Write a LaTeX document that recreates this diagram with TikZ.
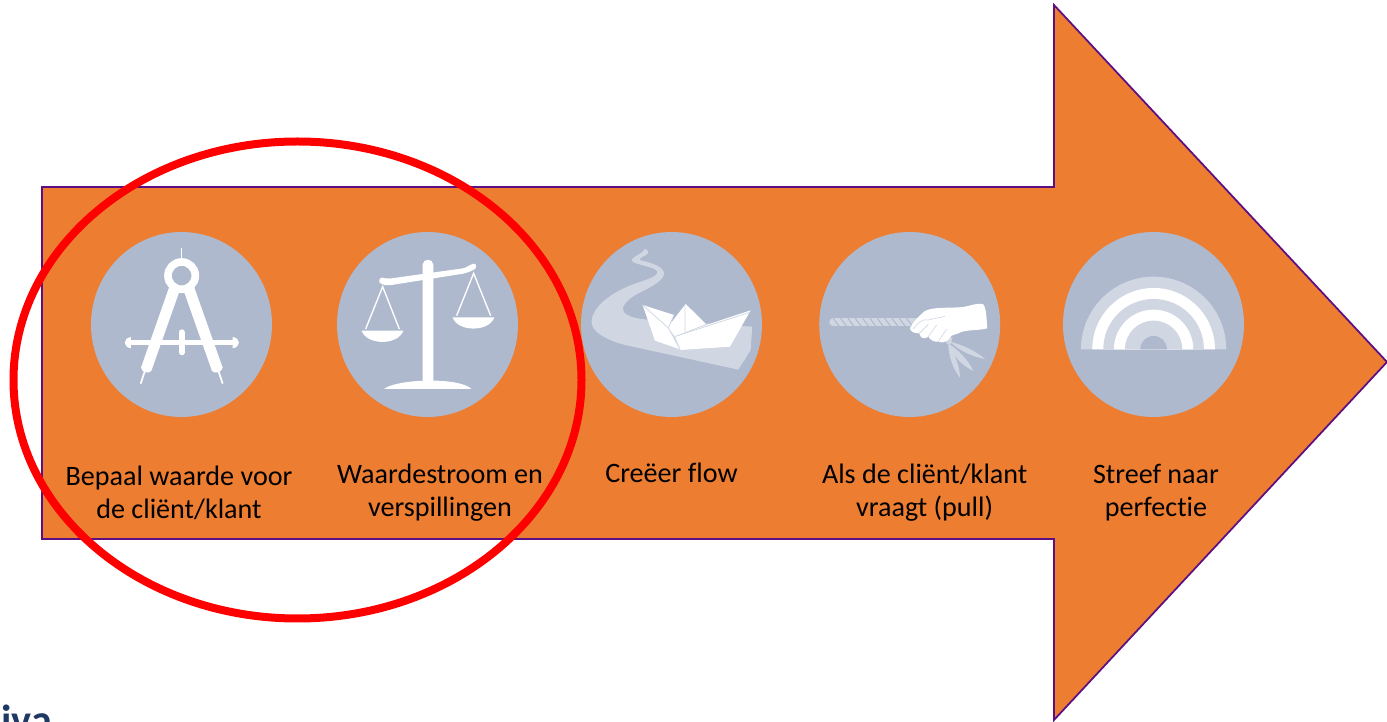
\documentclass[tikz,border=0pt]{standalone}
\usepackage{fontspec}
\setmainfont[RawFeature={-liga}]{Carlito}
\usetikzlibrary{shapes.geometric}
\definecolor{pijl}{HTML}{ED7D31}
\definecolor{rand}{HTML}{5C0F82}
\definecolor{schijf}{HTML}{AEB9CE}
\definecolor{bleek}{HTML}{D0D7E3}
\definecolor{kop}{HTML}{1F3864}
\tikzset{
  schijfje/.style={ellipse,fill=schijf,inner sep=0pt,minimum width=3.62cm,minimum height=3.7cm},
  stap/.style={align=center,inner sep=0pt,font=\fontsize{16}{18.7}\selectfont},
  zoomed/.style={x=0.02cm/3,y=-0.02cm/3},
}
\begin{document}
\begin{tikzpicture}[x=0.02cm,y=-0.02cm,node distance=3.36cm]
\useasboundingbox (0,0) rectangle (1387,722);
\clip (0,0) rectangle (1387,722);
\draw[fill=pijl,draw=rand,line width=0.035cm] (42,187) -- (1054,187) -- (1054,5) -- (1387,362) -- (1054,720) -- (1054,539) -- (42,539) -- cycle;
\node[schijfje] (c_1) at (181.5,324.5) {};
\node[schijfje] (c_2) at (427.5,324.5) {};
\node[schijfje] (c_3) at (671.5,324.5) {};
\node[schijfje] (c_4) at (909.7,324.5) {};
\node[schijfje] (c_5) at (1153.5,324.5) {};
\node[stap] (t_1) [below of=c_1,xshift=-0.05cm] {Bepaal waarde voor\\de cliënt/klant};
\node[stap] (t_2) [below of=c_2,xshift=0.25cm] {Waardestroom en\\verspillingen};
\node[stap] (t_3) [below of=c_3,yshift=0.40cm] {Creëer flow};
\node[stap] (t_4) [below of=c_4,xshift=0.3cm] {Als de cliënt/klant\\vraagt (pull)};
\node[stap] (t_5) [below of=c_5,xshift=0.05cm] {Streef naar\\perfectie};
% passer
\begin{scope}[zoomed,shift={(80*3,225*3)}]
\draw[white,line width=0.03cm] (305,70) -- (305,100);
\draw[white,line width=0.153cm] (305,152) circle (41);
\fill[white] (268,185) -- (298,200) -- (214,438) .. controls (204,448) and (185,442) .. (183,428) -- cycle;
\fill[white] (342,185) -- (312,200) -- (396,438) .. controls (406,448) and (425,442) .. (428,428) -- cycle;
\draw[white,line width=0.035cm] (194,440) -- (182,476) (416,440) -- (428,476);
\fill[white] (150,344) rectangle (460,361);
\fill[white] (153,336) .. controls (128,340) and (128,366) .. (153,370) -- cycle;
\fill[white] (458,336) .. controls (483,340) and (483,366) .. (458,370) -- cycle;
\draw[white,line width=0.12cm,line cap=round] (305,322) -- (305,382);
\end{scope}
% weegschaal
\begin{scope}[zoomed,shift={(80*3,225*3)}]
\fill[white] (1028,118) .. controls (1030,100) and (1058,100) .. (1060,118) -- (1060,470) -- (1028,470) -- cycle;
\fill[white] (912,492) .. controls (950,462) and (1135,455) .. (1175,492) -- cycle;
\fill[white] (905,158) .. controls (915,160) and (925,162) .. (935,160) -- (1150,130) .. controls (1160,128) and (1170,118) .. (1182,116) .. controls (1192,118) and (1190,130) .. (1182,134) .. controls (1170,140) and (1160,144) .. (1150,146) -- (935,180) .. controls (920,182) and (905,180) .. (898,172) .. controls (896,164) and (900,158) .. (905,158) -- cycle;
\draw[white,line width=0.027cm] (857,312) -- (908,185) -- (958,312);
\fill[white] (845,317) .. controls (860,362) and (955,362) .. (970,317) -- cycle;
\draw[white,line width=0.027cm] (1130,272) -- (1181,145) -- (1232,272);
\fill[white] (1118,277) .. controls (1133,322) and (1228,322) .. (1243,277) -- cycle;
\end{scope}
% bootje
\begin{scope}[zoomed,shift={(570*3,225*3)}]
\fill[bleek] (222,72) .. controls (238,74) and (240,84) .. (225,92) .. controls (212,98) and (205,102) .. (212,106) .. controls (240,112) and (285,125) .. (282,148) .. controls (278,170) and (235,190) .. (200,208) .. controls (170,225) and (150,248) .. (162,262) .. controls (175,276) and (205,282) .. (235,284) -- (547,305) -- (542,375) -- (505,434) -- (165,360) .. controls (110,345) and (60,320) .. (65,285) .. controls (72,240) and (130,200) .. (190,178) .. controls (225,165) and (265,155) .. (262,140) .. controls (258,125) and (195,120) .. (186,108) .. controls (182,95) and (225,85) .. (222,72) -- cycle;
\fill[white] (218,240) -- (312,270) -- (296,308) -- (330,373) -- (255,347) -- cycle;
\fill[white] (347,237) -- (408,297) -- (345,322) -- (315,335) -- (294,306) -- cycle;
\fill[white] (542,256) -- (480,365) -- (332,375) -- (316,336) -- (415,298) -- cycle;
\draw[bleek,line width=0.015cm] (218,240) -- (296,310) -- (330,373) (345,240) -- (345,322) (316,334) -- (540,262) (312,270) -- (296,306);
\end{scope}
% touw en hand
\begin{scope}[zoomed,shift={(570*3,225*3)}]
\draw[bleek,line width=0.16cm,line cap=round] (790,292) -- (1040,292);
\foreach \x in {790,812,...,1030}
  \draw[schijf,line width=0.02cm] (\x,280) -- (\x+18,304);
\fill[bleek] (1125,340) -- (1148,338) -- (1142,358) -- (1130,356) -- cycle;
\fill[bleek] (1140,350) .. controls (1180,360) and (1220,380) .. (1245,402) .. controls (1205,395) and (1165,375) .. (1140,350) -- cycle;
\fill[bleek] (1135,355) .. controls (1165,375) and (1195,405) .. (1210,438) .. controls (1175,420) and (1145,390) .. (1135,355) -- cycle;
\fill[bleek] (1135,355) .. controls (1155,390) and (1170,425) .. (1170,458) .. controls (1148,430) and (1135,390) .. (1135,355) -- cycle;
\fill[white] (1020,310) .. controls (1030,290) and (1050,270) .. (1065,258) .. controls (1090,245) and (1140,250) .. (1180,246) .. controls (1200,243) and (1225,232) .. (1240,238) .. controls (1250,250) and (1250,290) .. (1252,310) .. controls (1225,318) and (1190,312) .. (1165,325) -- (1145,332) .. controls (1140,345) and (1120,358) .. (1105,350) .. controls (1095,352) and (1080,345) .. (1075,335) .. controls (1065,345) and (1050,340) .. (1048,325) .. controls (1035,325) and (1022,322) .. (1020,310) -- cycle;
\draw[bleek,line width=0.012cm] (1030,312) .. controls (1040,295) and (1060,280) .. (1075,285) .. controls (1095,280) and (1110,278) .. (1125,274);
\draw[bleek,line width=0.012cm] (1075,335) -- (1100,300) (1105,350) -- (1130,312) (1048,325) -- (1075,298);
\end{scope}
% regenboog
\begin{scope}[zoomed,shift={(1050*3,225*3)}]
\foreach \r/\kleur in {218/bleek,184/white,151/bleek,119/white,86/bleek,40/schijf}
  \fill[\kleur] (311-\r,373) arc[start angle=180,end angle=360,radius=\r] -- cycle;
\end{scope}
\node[anchor=base west,inner sep=0pt,text=kop,font=\fontsize{24}{28}\selectfont\bfseries] (t_6) at (1,735) {iva};
\draw[red,line width=0.16cm] (297.5,380) ellipse [x radius=284,y radius=238.5];
\end{tikzpicture}
\end{document}
